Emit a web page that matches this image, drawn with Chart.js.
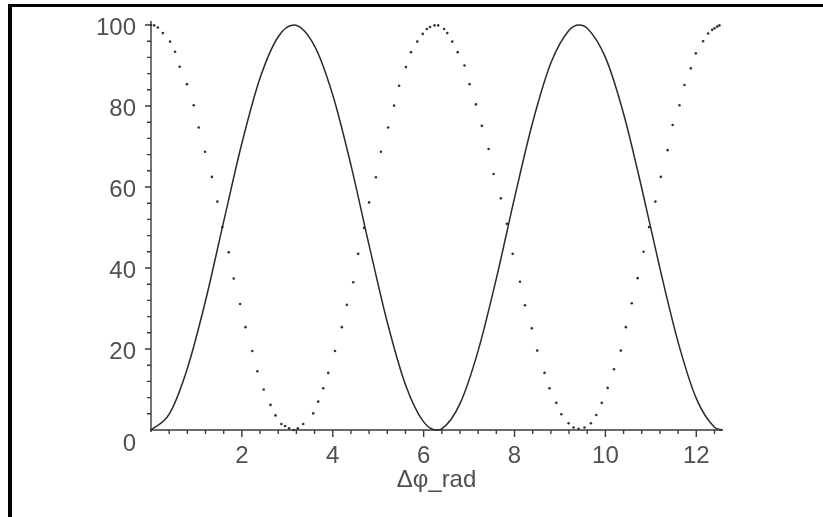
<!DOCTYPE html>
<html>
<head>
<meta charset="utf-8">
<script src="https://cdn.jsdelivr.net/npm/chart.js@4.4.0/dist/chart.umd.min.js"></script>
<style>
  html, body { margin: 0; padding: 0; background: #fff; }
  #wrap { width: 823px; height: 517px; }
</style>
</head>
<body>
<div id="wrap"><canvas id="myChart" width="823" height="517"></canvas></div>
<script>
// solid curve
const solidX = [0, 0.4, 0.8, 1.2, 1.6, 2.0, 2.4, 2.8, 3.14, 3.6, 4.0, 4.4, 4.8, 5.2, 5.6, 6.0, 6.28,
  6.4, 6.8, 7.2, 7.6, 8.0, 8.4, 8.8, 9.2, 9.42, 9.6, 10.0, 10.4, 10.8, 11.2, 11.6, 12.0, 12.4, 12.57];
const solidY = [0, 3.9, 15.2, 31.9, 51.5, 70.8, 86.9, 97.1, 100, 94.8, 82.7, 65.4, 45.6, 26.6, 11.2, 2.0, 0,
  0.3, 6.5, 19.6, 37.4, 57.3, 76.0, 90.6, 98.7, 100, 99.2, 92.0, 78.1, 59.7, 39.9, 21.7, 7.8, 0.7, 0];

// dotted curve
const dotX = [0, 0.07, 0.15, 0.26, 0.42, 0.53, 0.63, 0.79, 0.94, 1.05, 1.19, 1.34, 1.46, 1.57, 1.71, 1.82,
  1.96, 2.08, 2.23, 2.34, 2.48, 2.63, 2.74, 2.87, 2.95, 3.04, 3.14, 3.23, 3.35, 3.57, 3.68, 3.79, 3.90,
  4.05, 4.20, 4.31, 4.45, 4.56, 4.69, 4.80, 4.95, 5.06, 5.22, 5.35, 5.46, 5.61, 5.72, 5.86, 5.98, 6.07,
  6.14, 6.24, 6.32, 6.45, 6.52, 6.63, 6.75, 6.90, 7.01, 7.15, 7.28, 7.43, 7.54, 7.70, 7.83, 7.96, 8.12,
  8.23, 8.38, 8.50, 8.66, 8.77, 8.92, 9.03, 9.19, 9.30, 9.41, 9.54, 9.68, 9.80, 9.92, 10.05, 10.19,
  10.34, 10.45, 10.58, 10.71, 10.84, 10.96, 11.10, 11.22, 11.37, 11.48, 11.63, 11.74, 11.88, 11.99,
  12.15, 12.26, 12.35, 12.40, 12.46, 12.51];
const dotY = [100, 99.9, 99.4, 98.0, 95.9, 93.4, 89.7, 85.4, 80.2, 74.7, 68.7, 62.5, 56.4, 50.1, 43.9, 37.4,
  31.1, 25.4, 19.5, 14.5, 10.0, 6.2, 3.6, 1.5, 1.0, 0.4, 0, 0.4, 1.5, 4.1, 7.0, 10.3, 14.1,
  19.5, 25.4, 30.9, 36.5, 43.5, 49.9, 56.2, 62.4, 68.7, 74.7, 80.1, 85.0, 89.6, 93.3, 95.9, 97.8, 99.0,
  99.5, 99.9, 99.9, 99.0, 98.0, 95.9, 93.3, 90.0, 85.4, 80.4, 75.1, 69.4, 63.2, 57.2, 50.9, 43.5, 36.6,
  30.8, 25.1, 19.6, 14.1, 10.3, 6.7, 3.9, 1.65, 0.6, 0.3, 0.6, 1.65, 3.7, 6.7, 10.4, 15.0,
  19.6, 25.4, 31.3, 37.5, 44.0, 50.1, 56.4, 62.5, 69.1, 75.3, 80.2, 85.2, 89.3, 93.0,
  96.0, 97.9, 98.8, 99.2, 99.6, 99.9];

const xTickLabels = [2, 4, 6, 8, 10, 12];
const yTickLabels = [0, 20, 40, 60, 80, 100];
const xTitle = 'Δφ_rad';

const solidPts = solidX.map((x, i) => ({ x: x, y: solidY[i] }));
const dotPts = dotX.map((x, i) => ({ x: x, y: dotY[i] }));

const FONT = '24px "Liberation Sans", Arial, sans-serif';
const AXIS = '#3a3a3a';
const TXT = '#505050';

// page frame, axes, ticks and labels
const axesPlugin = {
  id: 'maplexes',
  beforeDraw(chart) {
    const c = chart.ctx;
    c.save();
    c.fillStyle = '#fff';
    c.fillRect(0, 0, chart.width, chart.height);
    c.fillStyle = '#000';
    c.fillRect(8, 4, chart.width - 8, 3);
    c.fillRect(8, 4, 4, chart.height - 4);
    c.restore();
  },
  beforeDatasetsDraw(chart) {
    const c = chart.ctx;
    const xs = chart.scales.x, ys = chart.scales.y;
    const x0 = xs.getPixelForValue(0), y0 = ys.getPixelForValue(0);
    const xEnd = xs.getPixelForValue(xs.max), yTop = ys.getPixelForValue(100);
    c.save();
    c.strokeStyle = AXIS;
    c.lineWidth = 1.4;
    c.beginPath();
    c.moveTo(x0 - 1, y0); c.lineTo(xEnd + 1, y0);
    c.moveTo(x0, y0 + 2); c.lineTo(x0, yTop - 4);
    // x ticks every 0.4, long ones every 2
    for (let k = 1; k * 0.4 <= xs.max + 1e-6; k++) {
      const px = xs.getPixelForValue(k * 0.4);
      const len = k % 5 === 0 ? 7 : 4;
      c.moveTo(px, y0); c.lineTo(px, y0 + len);
    }
    // y ticks every 4, long ones every 20
    for (let k = 1; k <= 25; k++) {
      const py = ys.getPixelForValue(k * 4);
      const len = k % 5 === 0 ? 6 : 4;
      c.moveTo(x0, py); c.lineTo(x0 - len, py);
    }
    c.stroke();

    c.fillStyle = TXT;
    c.font = FONT;
    c.textAlign = 'center';
    c.textBaseline = 'middle';
    xTickLabels.forEach(v => c.fillText(String(v), xs.getPixelForValue(v), y0 + 26));
    c.textAlign = 'right';
    yTickLabels.forEach(v => {
      const py = ys.getPixelForValue(v);
      c.fillText(String(v), x0 - 15, v === 0 ? py + 14 : py + 3);
    });
    c.textAlign = 'center';
    c.textBaseline = 'alphabetic';
    c.fillText(xTitle, (x0 + xEnd) / 2, y0 + 57);
    c.restore();
  }
};

const ctx = document.getElementById('myChart');
new Chart(ctx, {
  type: 'scatter',
  data: {
    datasets: [{
      label: 'solid',
      data: solidPts,
      showLine: true,
      borderColor: '#2a2a2a',
      borderWidth: 1.5,
      pointRadius: 0,
      cubicInterpolationMode: 'monotone',
      clip: false,
      order: 1
    }, {
      label: 'dots',
      data: dotPts,
      showLine: false,
      pointRadius: 1.3,
      pointBackgroundColor: '#333',
      pointBorderWidth: 0,
      clip: false,
      order: 2
    }]
  },
  options: {
    responsive: false,
    animation: false,
    layout: { padding: { left: 151, right: 101, top: 25, bottom: 87 } },
    plugins: { legend: { display: false }, tooltip: { enabled: false } },
    scales: {
      x: { type: 'linear', min: 0, max: 12.566, display: false },
      y: { type: 'linear', min: 0, max: 100, display: false }
    }
  },
  plugins: [axesPlugin]
});
</script>
</body>
</html>
